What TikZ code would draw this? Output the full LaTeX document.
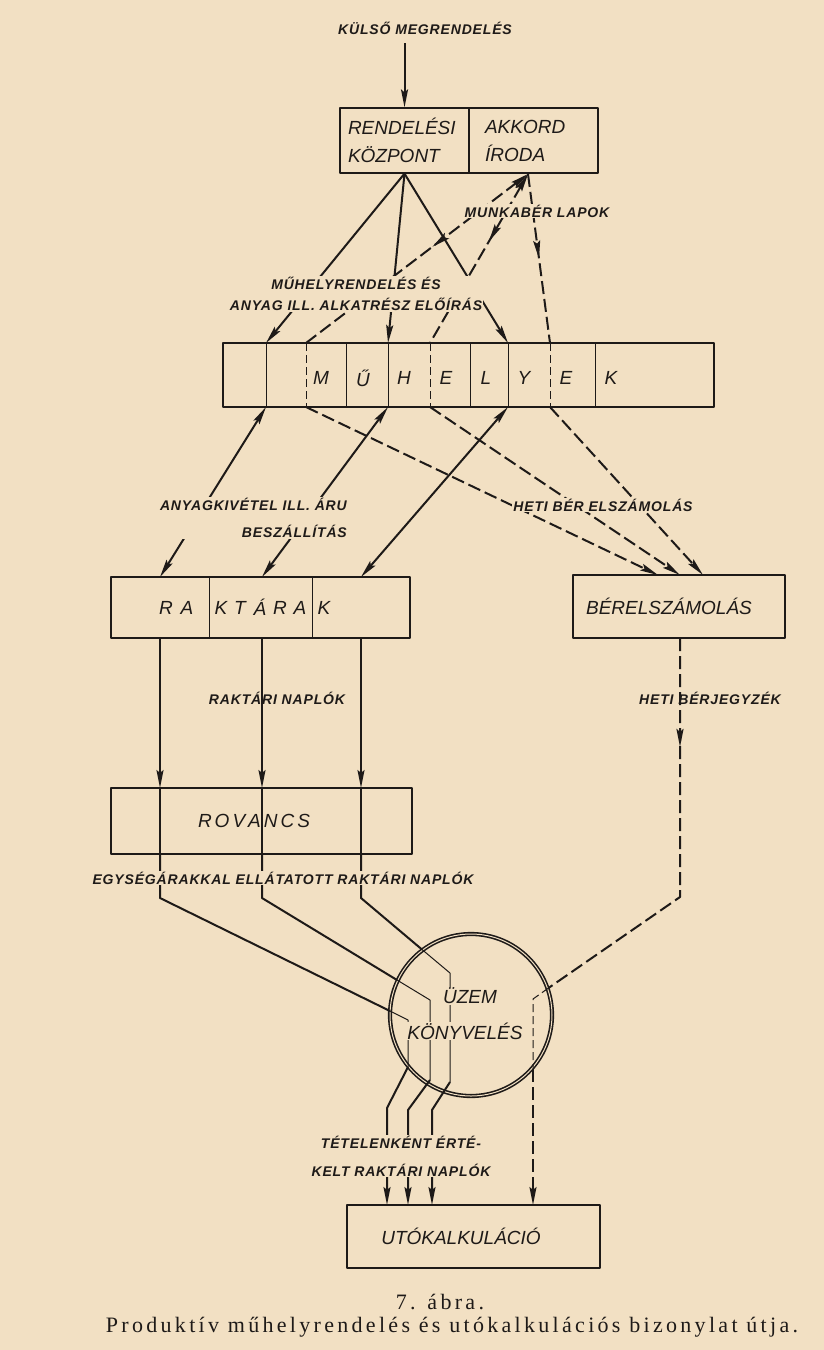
\documentclass[tikz,border=0pt]{standalone}
\usepackage{fontspec}
\usetikzlibrary{arrows.meta,decorations.markings}
\newfontfamily\sansf{Liberation Sans}
\newfontfamily\labf[LetterSpace=6]{Liberation Sans}
\newfontfamily\serf[LetterSpace=15]{Liberation Serif}
\definecolor{bgc}{RGB}{242,224,195}
\definecolor{ink}{RGB}{30,26,24}
\newcommand\boxfnt{\sansf\itshape\fontsize{19}{28}\selectfont}
\newcommand\labfnt{\labf\bfseries\itshape\fontsize{14}{21}\selectfont}
\newcommand\capfnt{\serf\fontsize{22}{25}\selectfont}
\begin{document}
\begin{tikzpicture}[x=1pt,y=-1pt,line join=round,
  box/.style={draw=ink,line width=1.2pt,rectangle,inner sep=0pt,text=ink,font=\boxfnt},
  lab/.style={font=\labfnt,text=ink,fill=bgc,inner sep=1pt,align=center},
  con/.style={draw=ink,line width=2pt},
  thn/.style={draw=ink,line width=1pt},
  dsh/.style={dash pattern=on 13pt off 5pt},
  sdsh/.style={dash pattern=on 8pt off 4pt},
  ahead/.style={-{Stealth[length=18pt,width=7pt,inset=3pt]}},
  bhead/.style={{Stealth[length=18pt,width=7pt,inset=3pt]}-{Stealth[length=18pt,width=7pt,inset=3pt]}},
  shead/.style={{Stealth[length=18pt,width=7pt,inset=3pt]}-},
  mid/.style={postaction={decorate},decoration={markings,mark=at position #1 with {\arrow{Stealth[length=18pt,width=7pt,inset=3pt]}}}},
]
\fill[bgc] (0,0) rectangle (824,1350);
\useasboundingbox (0,0) rectangle (824,1350);

% ---------- boxes ----------
\node[box,minimum width=129pt,minimum height=65pt,text width=113pt,align=left,inner xsep=8pt] (rk) at (404.5,140.5) {RENDELÉSI\\KÖZPONT};
\node[box,minimum width=129pt,minimum height=65pt,text width=97pt,align=left,inner xsep=16pt] (ak) at (533.5,140.5) {AKKORD\\ÍRODA};
\node[box,minimum width=491pt,minimum height=64pt] (muh) at (468.5,375) {};
\node[box,minimum width=299pt,minimum height=61pt] (rak) at (260.5,607.5) {};
\node[box,minimum width=212pt,minimum height=63pt] (ber) at (679,606.5) {\kern-20pt BÉRELSZÁMOLÁS};
\node[box,minimum width=301pt,minimum height=66pt] (rov) at (261.5,821) {\kern-15pt R\kern3pt O\kern3pt V\kern3pt A\kern3pt N\kern3pt C\kern3pt S};
\node[box,minimum width=253pt,minimum height=63pt] (uto) at (473.5,1236.5) {\kern-25pt UTÓKALKULÁCIÓ};
\node[draw=ink,circle,line width=1.6pt,double=bgc,double distance=1pt,minimum size=162pt,inner sep=0pt] (uzem) at (471,1015) {};

\node[lab,fill=none] (kulso) at (425,28) {KÜLSŐ MEGRENDELÉS};

% ---------- coordinates ----------
\coordinate (akap) at (528,174);
\foreach \i/\xx in {1/266,2/306,3/346,4/388,5/430,6/470,7/508,8/550,9/595}{
  \coordinate (mt\i) at (\xx,343); \coordinate (mb\i) at (\xx,407);}
\foreach \i/\xx in {1/160,2/262,3/361}{
  \coordinate (rt\i) at (\xx,577); \coordinate (rb\i) at (\xx,638);
  \coordinate (vt\i) at (\xx,788); \coordinate (vb\i) at (\xx,854);
  \coordinate (k\i) at (\xx,898);}
\coordinate (rd1t) at (209,577); \coordinate (rd1b) at (209,638);
\coordinate (rd2t) at (312,577); \coordinate (rd2b) at (312,638);
\coordinate (e1) at (390,1011); \coordinate (i1) at (408,1020); \coordinate (o1) at (408,1067); \coordinate (d1) at (387,1108); \coordinate (u1) at (387,1205);
\coordinate (e2) at (397,980);  \coordinate (i2) at (430,1000); \coordinate (o2) at (430,1080); \coordinate (d2) at (408,1110); \coordinate (u2) at (408,1205);
\coordinate (e3) at (422,949.5);\coordinate (i3) at (450,973);  \coordinate (o3) at (450,1082); \coordinate (d3) at (432,1110); \coordinate (u3) at (432,1205);
\coordinate (bt1) at (658,575); \coordinate (bt2) at (680,575); \coordinate (bt3) at (703,575);
\coordinate (bb) at (680,638); \coordinate (kr) at (680,897);
\coordinate (e4) at (548.5,988); \coordinate (i4) at (533,999); \coordinate (o4) at (533,1069); \coordinate (u4) at (533,1205);

% ---------- műhelyek dividers and letters ----------
\foreach \i in {1,3,4,6,7,9} \draw[thn] (mt\i) -- (mb\i);
\foreach \i in {2,5,8} \draw[thn,sdsh] (mt\i) -- (mb\i);
\foreach \ch/\xx in {M/321,Ű/363,H/404,E/446,L/486,Y/524,E/566,K/611}
  \node[font=\boxfnt,text=ink,inner sep=0pt] (ml\xx) at (\xx,378) {\ch};

% raktárak dividers and letters
\draw[thn] (rd1t) -- (rd1b);
\draw[thn] (rd2t) -- (rd2b);
\foreach \ch/\xx in {R/166,A/187,K/221,T/240,Á/260,R/280,A/300,K/324}
  \node[font=\boxfnt,text=ink,inner sep=0pt] (rl\xx) at (\xx,607.5) {\ch};

% ---------- connectors ----------
\draw[con,ahead,shorten <=8pt] (kulso.south -| rk.north) -- (rk.north);
\foreach \i in {1,4,7} \draw[con,ahead] (rk.south) -- (mt\i);
\draw[con,dsh,shead,mid=0.43] (akap) -- (mt2);
\draw[con,dsh,shead,mid=0.4] (akap) -- (mt5);
\draw[con,dsh,mid=0.5] (akap) -- (mt8);

\draw[con,bhead] (mb1) -- (rt1);
\draw[con,bhead] (mb4) -- (rt2);
\draw[con,bhead] (mb7) -- (rt3);
\draw[con,dsh,ahead] (mb2) -- (bt1);
\draw[con,dsh,ahead] (mb5) -- (bt2);
\draw[con,dsh,ahead] (mb8) -- (bt3);

\foreach \i in {1,2,3}{
  \draw[con,ahead] (rb\i) -- (vt\i);
  \draw[draw=ink,line width=1.4pt] (vt\i) -- (vb\i);
  \draw[con] (vb\i) -- (k\i) -- (e\i);
  \draw[thn] (e\i) -- (i\i) -- (o\i);
  \draw[con,ahead] (o\i) -- (d\i) -- (u\i);
}
\draw[con,dsh,mid=0.26] (bb) -- (kr) -- (e4);
\draw[thn,sdsh] (e4) -- (i4) -- (o4);
\draw[con,dsh,ahead] (o4) -- (u4);

% ---------- labels ----------
\node[lab] (munk) at (537,211) {MUNKABÉR LAPOK};
\node[lab] (mrend) at (356,294) {MŰHELYRENDELÉS ÉS\\ANYAG ILL. ALKATRÉSZ ELŐÍRÁS};
\node[lab,align=right,anchor=east] (anyag) at (348,518) {ANYAGKIVÉTEL ILL. ÁRU\\[6pt]BESZÁLLÍTÁS};
\node[lab] (hetiber) at (603,505) {HETI BÉR ELSZÁMOLÁS};
\node[lab,fill=none] (raknap) at (277,698) {RAKTÁRI NAPLÓK};
\node[lab,fill=none] (hetibj) at (710,698) {HETI BÉRJEGYZÉK};
\node[lab] (egys) at (283,878) {EGYSÉGÁRAKKAL ELLÁTATOTT RAKTÁRI NAPLÓK};
\node[lab] (tetel) at (401,1156) {TÉTELENKÉNT ÉRTÉ-\\[7pt]KELT RAKTÁRI NAPLÓK};
\node[font=\boxfnt,text=ink,fill=bgc,inner sep=0.5pt] (uz1) at (470,996) {ÜZEM};
\node[font=\boxfnt,text=ink,fill=bgc,inner sep=0.5pt] (uz2) at (465,1031) {KÖNYVELÉS};

% ---------- caption ----------
\node[font=\capfnt,text=ink] (capa) at (440,1302) {7. ábra.};
\node[font=\capfnt,text=ink] (capb) at (452,1327) {Produktív műhelyrendelés és utókalkulációs bizonylat útja.};
\end{tikzpicture}
\end{document}
